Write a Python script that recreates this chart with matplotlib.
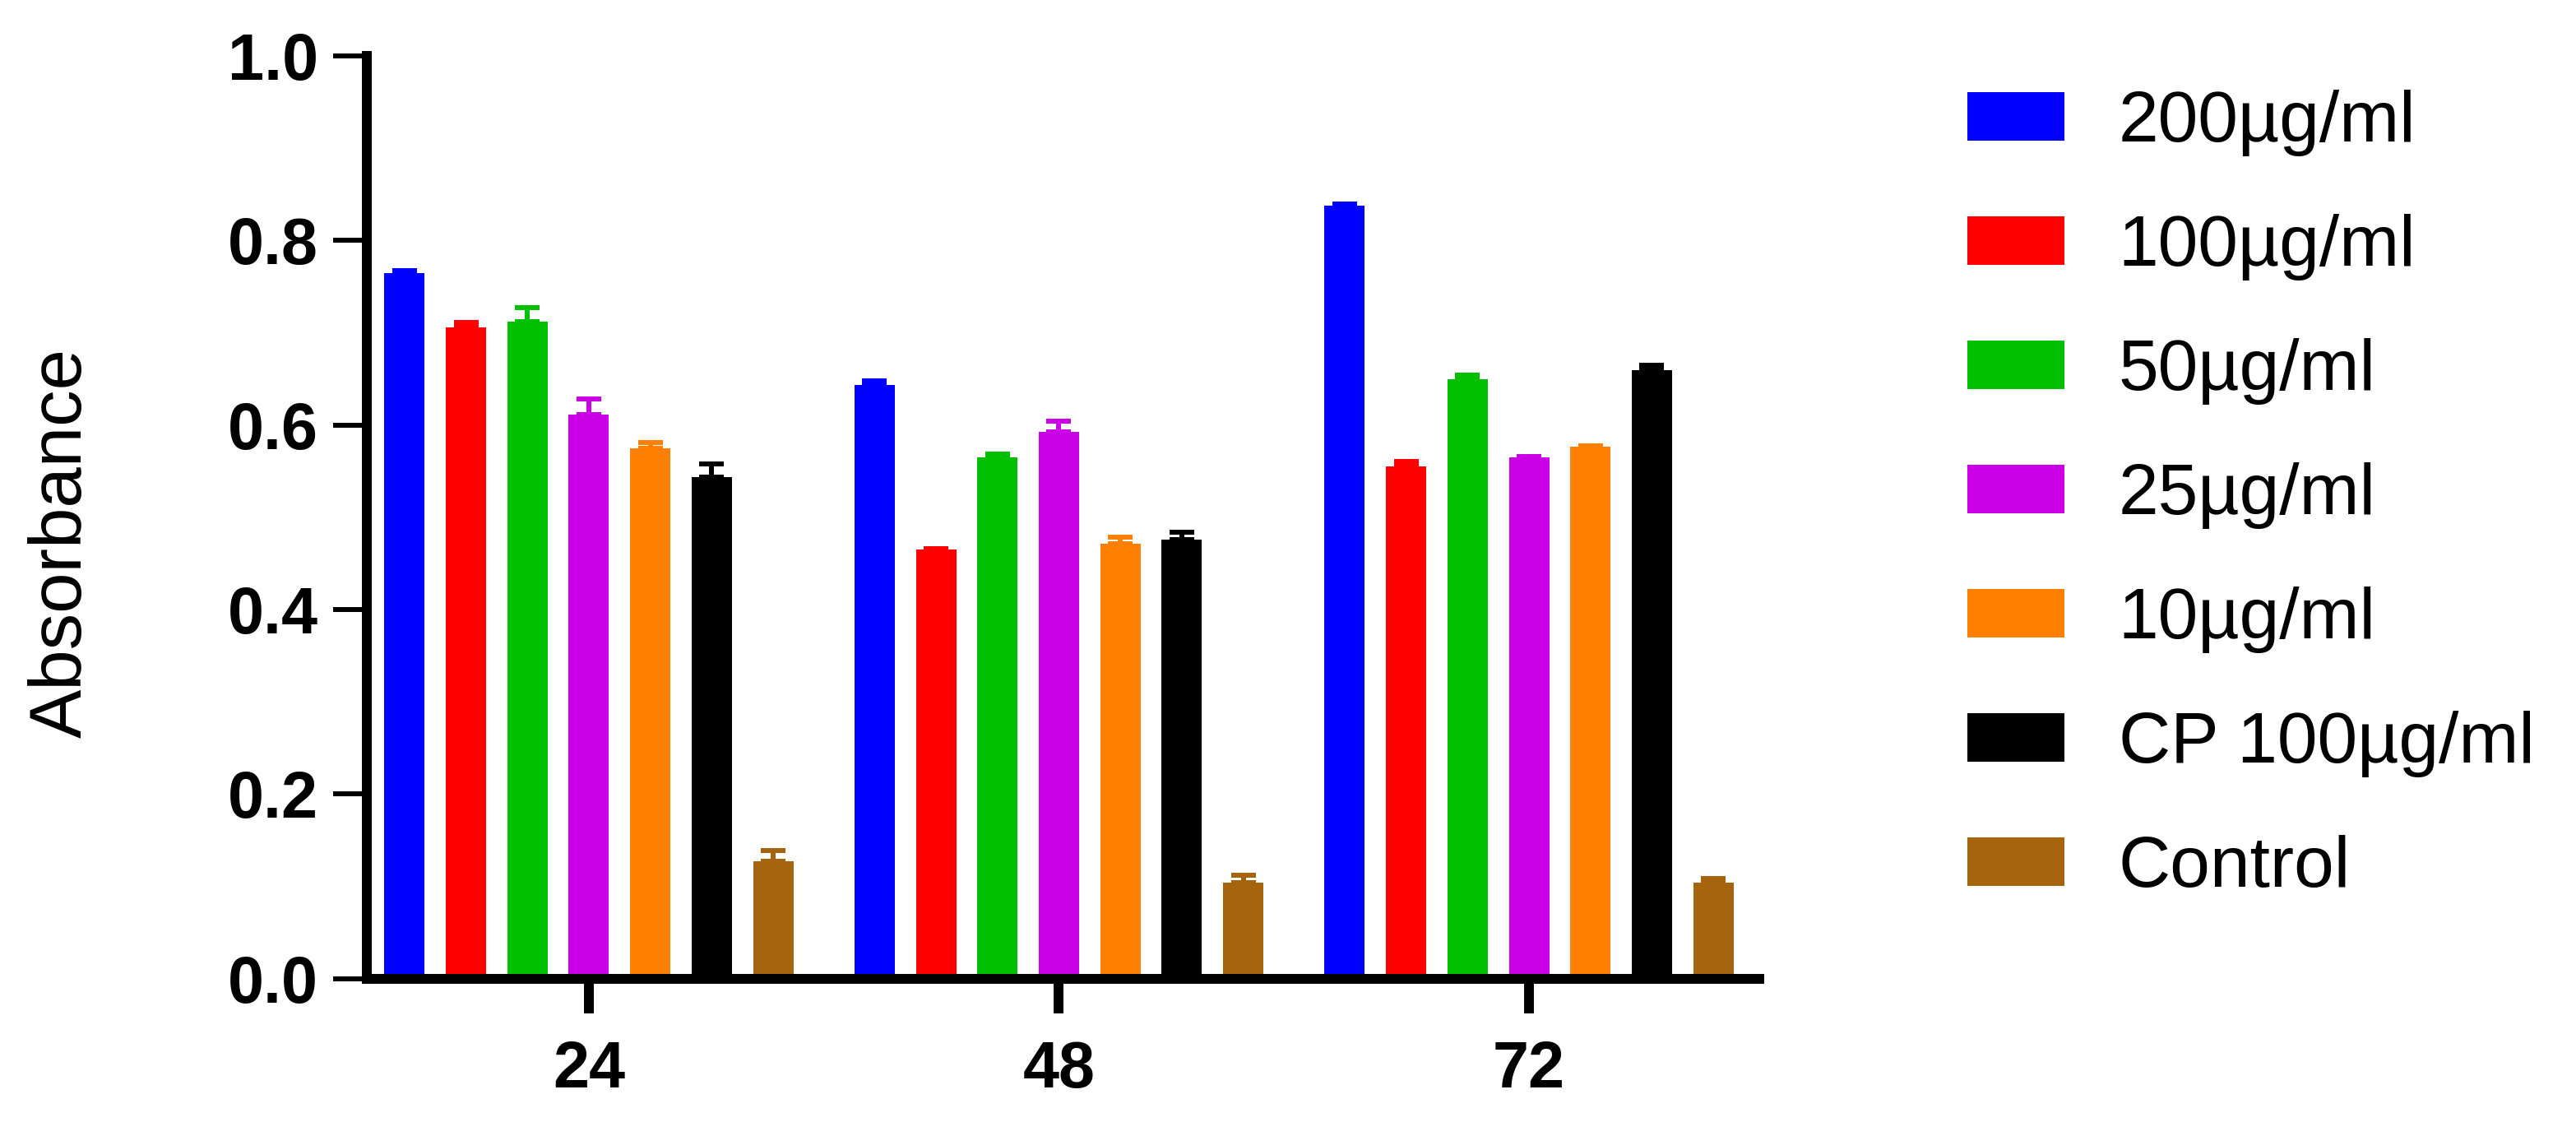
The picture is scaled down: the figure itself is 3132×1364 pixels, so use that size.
import matplotlib
matplotlib.use("Agg")
import matplotlib.pyplot as plt
import numpy as np

plt.rcParams['font.family'] = ['Liberation Sans', 'DejaVu Sans']

# data
times = ['24', '48', '72']
groups = ['200µg/ml', '100µg/ml', '50µg/ml', '25µg/ml', '10µg/ml', 'CP 100µg/ml', 'Control']
colors = ['#0000FF', '#FF0000', '#00C000', '#CC00E6', '#FF8000', '#000000', '#A6640F']

means = [
    [0.764, 0.643, 0.837],   # 200
    [0.706, 0.465, 0.555],   # 100
    [0.712, 0.565, 0.649],   # 50
    [0.611, 0.592, 0.565],   # 25
    [0.575, 0.471, 0.576],   # 10
    [0.543, 0.476, 0.659],   # CP 100
    [0.127, 0.104, 0.104],   # control
]
errs = [
    [0.003, 0.005, 0.002],
    [0.005, 0.001, 0.005],
    [0.015, 0.003, 0.005],
    [0.017, 0.012, 0.001],
    [0.006, 0.007, 0.001],
    [0.015, 0.008, 0.006],
    [0.012, 0.008, 0.005],
]

fig = plt.figure(figsize=(31.32, 13.64), dpi=100)
ax = fig.add_axes([0.1424, 0.12757, 0.54055, 0.82294])

x = np.arange(len(times))
pitch = 0.1307
width = 0.0857
for i, g in enumerate(groups):
    xs = x + (i - 3) * pitch
    ax.bar(xs, means[i], width, color=colors[i], label=g, zorder=2)
    ax.errorbar(xs, means[i], yerr=[np.zeros(3), errs[i]], fmt='none',
                ecolor=colors[i], elinewidth=4.3, capsize=10.5, capthick=4.3, zorder=1)

ax.set_xlim(-0.4724, 2.4899)
ax.set_ylim(0, 1.0)
ax.set_yticks([0, 0.2, 0.4, 0.6, 0.8, 1.0])
ax.set_yticklabels(['0.0', '0.2', '0.4', '0.6', '0.8', '1.0'])
ax.set_xticks(x)
ax.set_xticklabels(times)

for s in ['top', 'right']:
    ax.spines[s].set_visible(False)
for s in ['left', 'bottom']:
    ax.spines[s].set_linewidth(8.6)

ax.tick_params(axis='y', length=29.5, width=4.3, pad=13, labelsize=57)
ax.tick_params(axis='x', length=30, width=8.6, pad=23, labelsize=57)
for lab in ax.get_xticklabels() + ax.get_yticklabels():
    lab.set_fontweight('bold')

ax.set_ylabel('Absorbance', fontsize=64)
ax.yaxis.set_label_coords(-0.194, 0.472)

fig.legend(loc='upper left', bbox_to_anchor=(0.7637, 0.920), frameon=False,
           fontsize=63, handlelength=1.35, handleheight=0.66, handletextpad=0.75,
           labelspacing=0.80, borderpad=0, borderaxespad=0)

fig.savefig('out.png', dpi=100)
